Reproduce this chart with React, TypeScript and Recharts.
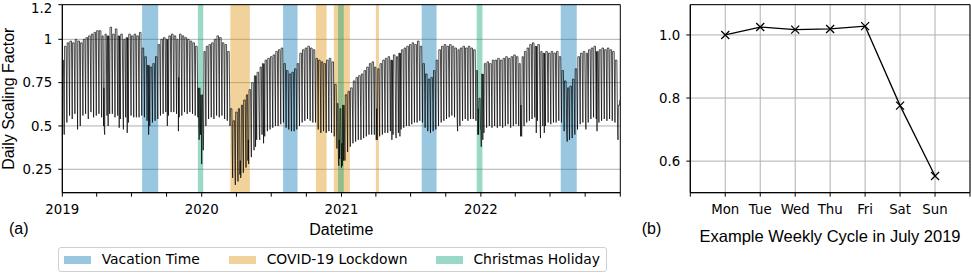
import React from 'react';
import { ComposedChart, LineChart, Line, XAxis, YAxis, CartesianGrid, ReferenceArea } from 'recharts';

// ---------- data (left panel): weekly levels in hundredths, week 0 starts Mon 2018-12-31 ----------
const weekdayLevel = [
  // 2019
  88, 96, 98, 99, 98, 100, 99, 98, 100, 101, 102, 103, 104, 105, 105, 102, 103, 102, 107, 103,
  106, 102, 103, 100, 101, 103, 102, 103, 102, 104, 95, 90, 85, 84, 86, 90, 97, 100, 101, 100,
  102, 103, 102, 100, 103, 102, 101, 100, 99, 98, 96, 72,
  // 2020
  68, 93, 96, 97, 98, 100, 102, 101, 98, 97, 93, 60, 53, 58, 60, 62, 65, 68, 71, 75,
  79, 81, 84, 86, 88, 89, 90, 91, 93, 94, 95, 86, 82, 80, 81, 83, 86, 92, 94, 95,
  96, 95, 94, 89, 88, 87, 86, 88, 89, 87, 74, 63,
  // 2021
  60, 62, 68, 70, 72, 76, 78, 79, 80, 82, 84, 86, 87, 84, 83, 86, 88, 89, 90, 88,
  91, 90, 92, 94, 95, 96, 97, 98, 97, 99, 96, 86, 80, 77, 78, 82, 88, 94, 96, 97,
  96, 97, 96, 95, 94, 95, 96, 95, 96, 95, 94, 82,
  // 2022
  66, 80, 86, 87, 86, 88, 88, 89, 88, 89, 90, 89, 90, 91, 90, 86, 90, 93, 95, 97,
  98, 96, 97, 93, 92, 93, 92, 93, 92, 93, 90, 82, 76, 72, 73, 77, 83, 90, 92, 93,
  92, 94, 95, 96, 93, 94, 95, 94, 95, 94, 93, 88, 62,
];
const saturdayLevel = [
  65, 74, 77, 76, 78, 77, 75, 78, 79, 77, 80, 79, 80, 81, 79, 72, 79, 80, 81, 79,
  80, 78, 80, 78, 76, 79, 78, 78, 78, 79, 76, 72, 68, 69, 70, 73, 77, 79, 80, 78,
  80, 81, 80, 78, 80, 80, 79, 79, 78, 77, 74, 60,
  50, 72, 75, 76, 76, 78, 79, 78, 76, 75, 70, 35, 30, 30, 30, 38, 40, 42, 45, 50,
  58, 60, 62, 62, 66, 68, 69, 70, 71, 72, 73, 68, 65, 64, 65, 66, 68, 72, 74, 74,
  75, 74, 73, 68, 66, 67, 66, 67, 67, 64, 52, 42,
  40, 45, 50, 52, 55, 58, 60, 60, 62, 62, 64, 66, 66, 60, 64, 66, 68, 67, 68, 67,
  69, 68, 70, 71, 72, 73, 74, 75, 75, 76, 74, 68, 64, 62, 63, 65, 68, 72, 74, 75,
  75, 76, 75, 73, 72, 74, 74, 74, 75, 74, 73, 60,
  48, 60, 66, 67, 66, 68, 67, 68, 67, 69, 69, 68, 69, 70, 69, 62, 69, 72, 73, 75,
  76, 74, 75, 71, 70, 72, 71, 72, 71, 72, 70, 64, 60, 57, 58, 61, 65, 70, 72, 72,
  71, 73, 74, 74, 72, 73, 74, 73, 73, 73, 72, 66, 65,
];
const sundayLevel = [
  45, 52, 56, 54, 57, 48, 50, 56, 57, 54, 58, 55, 56, 57, 55, 48, 56, 57, 57, 55,
  56, 54, 57, 55, 52, 56, 55, 55, 55, 56, 55, 53, 50, 52, 53, 54, 56, 57, 58, 56,
  58, 58, 57, 55, 56, 58, 57, 58, 57, 56, 55, 45,
  36, 50, 54, 55, 54, 56, 55, 56, 54, 53, 50, 20, 16, 18, 20, 23, 26, 28, 32, 36,
  42, 44, 45, 44, 47, 48, 49, 50, 50, 51, 52, 49, 48, 47, 47, 48, 50, 52, 53, 54,
  53, 52, 52, 48, 46, 47, 46, 47, 46, 44, 37, 31,
  27, 30, 35, 38, 40, 41, 42, 42, 43, 44, 45, 45, 45, 42, 44, 45, 46, 46, 47, 45,
  47, 46, 48, 49, 50, 50, 51, 52, 52, 53, 52, 49, 47, 46, 47, 48, 50, 52, 53, 54,
  55, 56, 55, 53, 50, 53, 54, 53, 54, 54, 53, 45,
  38, 46, 49, 50, 49, 50, 49, 50, 49, 50, 51, 49, 50, 51, 50, 45, 50, 52, 53, 54,
  55, 53, 54, 50, 50, 52, 51, 52, 52, 53, 52, 47, 45, 42, 43, 45, 48, 51, 52, 53,
  52, 54, 55, 54, 52, 53, 54, 53, 54, 53, 52, 48, 45,
];
// public holidays (weekday dips)
const holidayValues: [string, number][] = [
  ['2019-01-01', 0.45], ['2019-04-19', 0.5], ['2019-04-22', 0.45], ['2019-05-01', 0.5], ['2019-05-30', 0.49],
  ['2019-06-10', 0.48], ['2019-06-20', 0.46], ['2019-08-15', 0.45], ['2019-10-03', 0.5], ['2019-11-01', 0.47],
  ['2019-12-24', 0.5], ['2019-12-25', 0.42], ['2019-12-26', 0.44], ['2019-12-31', 0.55],
  ['2020-01-01', 0.28], ['2020-01-06', 0.45], ['2020-04-10', 0.22], ['2020-04-13', 0.22], ['2020-05-01', 0.3],
  ['2020-05-21', 0.38], ['2020-06-01', 0.42], ['2020-06-11', 0.4], ['2020-12-24', 0.3], ['2020-12-25', 0.27],
  ['2020-12-31', 0.35],
  ['2021-01-01', 0.26], ['2021-01-06', 0.3], ['2021-04-02', 0.42], ['2021-04-05', 0.42], ['2021-05-13', 0.42],
  ['2021-05-24', 0.43], ['2021-06-03', 0.44], ['2021-11-01', 0.47], ['2021-12-24', 0.45], ['2021-12-31', 0.48],
  ['2022-01-06', 0.42], ['2022-04-15', 0.44], ['2022-04-18', 0.44], ['2022-05-26', 0.46], ['2022-06-06', 0.43],
  ['2022-06-16', 0.46], ['2022-08-15', 0.41], ['2022-10-03', 0.48], ['2022-11-01', 0.47], ['2022-12-26', 0.42],
];

const vacationPeriods: [string, string][] = [
  ['2019-07-29', '2019-09-09'], ['2020-08-01', '2020-09-08'], ['2021-07-30', '2021-09-07'], ['2022-07-29', '2022-09-09'],
];
const covidPeriods: [string, string][] = [
  ['2020-03-16', '2020-05-06'], ['2020-10-26', '2020-11-23'], ['2020-12-12', '2021-01-23'], ['2021-04-01', '2021-04-09'],
];
const christmasPeriods: [string, string][] = [
  ['2019-12-22', '2020-01-05'], ['2020-12-23', '2021-01-07'], ['2021-12-21', '2022-01-05'],
];

const yearLabels = ['2019', '2020', '2021', '2022'];
const leftYTicks = [0.25, 0.5, 0.75, 1, 1.2];

// ---------- data (right panel) ----------
const weekDays = ['Mon', 'Tue', 'Wed', 'Thu', 'Fri', 'Sat', 'Sun'];
const julyCycle = [1.0, 1.025, 1.017, 1.019, 1.028, 0.776, 0.553];
const rightYTicks = [0.6, 0.8, 1.0];

// ---------- styles ----------
const COLORS = { vacation: '#0173b2', covid: '#de8f05', christmas: '#029e73' };
const BAND_ALPHA = 0.4;
const TICK_FONT = 'DejaVu Sans';
const LABEL_FONT = 'Liberation Sans, Arial, sans-serif';
const GRID = '#b0b0b0';
const LEGEND_ITEM_LEFT = [5.7, 170.7, 377.4]; // layout offsets inside the legend box

// ---------- build ----------
const START = Date.UTC(2019, 0, 1);
const dayOf = (iso: string) => Math.round((Date.parse(iso + 'T00:00:00Z') - START) / 86400000);
const TOTAL_DAYS = dayOf('2023-01-01');

const holidayMap = new Map<number, number>(holidayValues.map(([d, v]) => [dayOf(d), v]));
const dailyData: { t: number; v: number }[] = [];
for (let d = 0; d < TOTAL_DAYS; d++) {
  const w = Math.floor((d + 1) / 7);
  const dow = (d + 1) % 7; // 0 = Monday
  let v = (dow < 5 ? weekdayLevel[w] : dow === 5 ? saturdayLevel[w] : sundayLevel[w]) / 100;
  const h = holidayMap.get(d);
  if (h !== undefined) v = h;
  dailyData.push({ t: d, v });
}

const yearStart = new Map<number, string>(yearLabels.map((y) => [dayOf(`${y}-01-01`), y]));
const quarterTicks: number[] = [];
yearLabels.forEach((y) => {
  ['01', '04', '07', '10'].forEach((m) => quarterTicks.push(dayOf(`${y}-${m}-01`)));
});
quarterTicks.push(TOTAL_DAYS);

const bandGroups = [
  { key: 'covid', periods: covidPeriods, color: COLORS.covid },
  { key: 'vacation', periods: vacationPeriods, color: COLORS.vacation },
  { key: 'christmas', periods: christmasPeriods, color: COLORS.christmas },
];
const legendItems = [
  { label: 'Vacation Time', color: COLORS.vacation },
  { label: 'COVID-19 Lockdown', color: COLORS.covid },
  { label: 'Christmas Holiday', color: COLORS.christmas },
];

const weeklyData = weekDays.map((name, i) => ({ i, name, v: julyCycle[i] }));

const tickStyle = { fontSize: 13.33, fill: '#000', fontFamily: TICK_FONT };

// left y tick: the top label sits on the image edge, nudge it just inside
const LeftYTick = (props: any) => {
  const { x, y, payload } = props;
  const isTop = payload.value === leftYTicks[leftYTicks.length - 1];
  return (
    <text
      x={x}
      y={y + (isTop ? 3.5 : 0)}
      dy="0.355em"
      textAnchor="end"
      fontSize={13.33}
      fontFamily={TICK_FONT}
      fill="#000"
    >
      {String(payload.value)}
    </text>
  );
};

const XMark = (props: any) => {
  const { cx, cy, index } = props;
  if (cx == null || cy == null) return <g key={`xm-${index}`} />;
  const r = 4;
  return (
    <path
      key={`xm-${index}`}
      d={`M${cx - r},${cy - r}L${cx + r},${cy + r}M${cx - r},${cy + r}L${cx + r},${cy - r}`}
      stroke="#000"
      strokeWidth={1.3}
      fill="none"
    />
  );
};

export default function App() {
  return (
    <div style={{ position: 'absolute', left: 0, top: 0, width: 971, height: 274, background: '#fff', overflow: 'hidden' }}>
      <div style={{ position: 'absolute', left: 0, top: 0 }}>
        <ComposedChart
          width={640}
          height={274}
          data={dailyData}
          margin={{ top: 4.67, right: 19.7, left: 12.3, bottom: 51.33 }}
        >
          <CartesianGrid horizontal vertical={false} stroke={GRID} strokeWidth={1} />
          <XAxis
            dataKey="t"
            type="number"
            domain={[0, TOTAL_DAYS]}
            ticks={quarterTicks}
            interval={0}
            tickFormatter={(t: number) => yearStart.get(t) ?? ''}
            tick={tickStyle}
            tickSize={4}
            tickMargin={7.5}
            height={30}
            stroke="#000"
            allowDataOverflow
          />
          <YAxis
            type="number"
            domain={[0.115, 1.2]}
            ticks={leftYTicks}
            interval={0}
            tick={<LeftYTick />}
            tickSize={4}
            tickMargin={6}
            width={50}
            stroke="#000"
            allowDataOverflow
          />
          {bandGroups.map((g) =>
            g.periods.map(([a, b]) => (
              <ReferenceArea
                key={`${g.key}-${a}`}
                x1={dayOf(a)}
                x2={dayOf(b)}
                fill={g.color}
                fillOpacity={BAND_ALPHA}
                stroke="none"
                ifOverflow="visible"
              />
            ))
          )}
          <Line
            dataKey="v"
            type="linear"
            stroke="#000"
            strokeWidth={0.7}
            dot={false}
            activeDot={false}
            isAnimationActive={false}
          />
          <ReferenceArea x1={0} x2={TOTAL_DAYS} fill="none" stroke="#000" strokeWidth={1} ifOverflow="visible" />
        </ComposedChart>
      </div>

      <div style={{ position: 'absolute', left: 640, top: 0 }}>
        <LineChart
          width={331}
          height={274}
          data={weeklyData}
          margin={{ top: 4.67, right: 1, left: 0.3, bottom: 51.33 }}
        >
          <CartesianGrid stroke={GRID} strokeWidth={1} />
          <XAxis
            dataKey="i"
            type="number"
            domain={[-1, 7]}
            ticks={[-1, 0, 1, 2, 3, 4, 5, 6, 7]}
            interval={0}
            tickFormatter={(i: number) => weekDays[i] ?? ''}
            tick={tickStyle}
            tickSize={4}
            tickMargin={7.5}
            height={30}
            stroke="#000"
          />
          <YAxis
            type="number"
            domain={[0.5, 1.096]}
            ticks={rightYTicks}
            interval={0}
            tickFormatter={(v: number) => v.toFixed(1)}
            tick={tickStyle}
            tickSize={4}
            tickMargin={6}
            width={50}
            stroke="#000"
            allowDataOverflow
          />
          <Line
            dataKey="v"
            type="linear"
            stroke="#000"
            strokeWidth={1.3}
            dot={XMark}
            activeDot={false}
            isAnimationActive={false}
          />
          <ReferenceArea x1={-1} x2={7} fill="none" stroke="#000" strokeWidth={1} ifOverflow="visible" />
        </LineChart>
      </div>

      <svg width={971} height={274} style={{ position: 'absolute', left: 0, top: 0, pointerEvents: 'none' }}>
        <g fontFamily={LABEL_FONT} fontSize={16} fill="#000">
          <text x={9} y={234}>(a)</text>
          <text x={341.3} y={234.5} textAnchor="middle">Datetime</text>
          <text transform="translate(14,98.7) rotate(-90)" textAnchor="middle">Daily Scaling Factor</text>
          <text x={641.7} y={234}>(b)</text>
          <text x={830} y={241.5} textAnchor="middle" fontSize={16.5}>Example Weekly Cycle in July 2019</text>
        </g>
      </svg>

      <div
        style={{
          position: 'absolute',
          left: 58.3,
          top: 247.3,
          width: 548.4,
          height: 25,
          boxSizing: 'border-box',
          border: '1px solid #d0d0d0',
          borderRadius: 3,
          background: '#fff',
          fontFamily: TICK_FONT,
          fontSize: 13.9,
          color: '#000',
          whiteSpace: 'nowrap',
        }}
      >
        {legendItems.map((it, k) => (
          <div
            key={it.label}
            style={{
              position: 'absolute',
              left: LEGEND_ITEM_LEFT[k] - 1,
              top: 0,
              height: 23,
              display: 'flex',
              alignItems: 'center',
            }}
          >
            <span
              style={{
                display: 'inline-block',
                width: 27,
                height: 8.5,
                background: it.color,
                opacity: BAND_ALPHA,
                marginRight: 10.7,
              }}
            />
            <span style={{ lineHeight: '23px' }}>{it.label}</span>
          </div>
        ))}
      </div>
    </div>
  );
}
